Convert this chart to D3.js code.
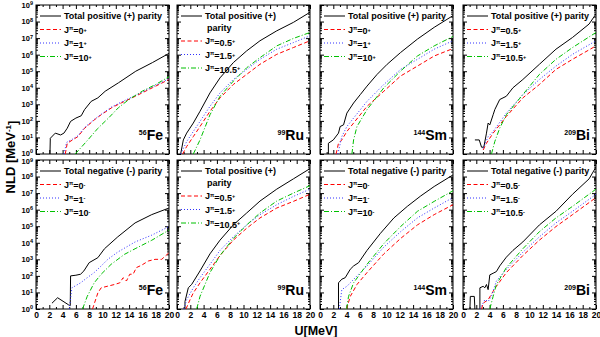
<!DOCTYPE html>
<html>
<head>
<meta charset="utf-8">
<script src="https://cdn.jsdelivr.net/npm/d3@7"></script>
<style>
  body { margin: 0; background: #fff; }
  text { font-family: "Liberation Sans", Arial, sans-serif; font-weight: bold; fill: #000; }
</style>
</head>
<body>
<script>
// values: [U (MeV), log10 NLD]
var xMajor = d3.range(0, 21, 2);
var xMinor = d3.range(1, 20, 2);
var yDecades = d3.range(0, 10);

var fePos = [
  [[2.1,0],[2.15,0.95],[2.9,1.26],[3.7,1.15],[4.2,1.26],[4.7,1.56],[5.2,1.97],[6.0,2.17],[6.8,2.31],[7.3,2.68],[8.3,3.18],[9.3,3.39],[10.4,3.79],[12.4,4.3],[15,5.0],[17.5,5.52],[20,6.08]],
  [[4.4,0],[4.7,0.65],[5.5,0.85],[6.3,1.05],[7.3,1.55],[8.8,2.07],[9.8,2.37],[11.4,2.8],[12.9,3.1],[15,3.5],[17.5,4.0],[20,4.5]],
  [[4.2,0],[4.6,0.7],[5.5,0.9],[6.3,1.1],[7.3,1.6],[8.8,2.1],[9.8,2.4],[11.4,2.85],[12.9,3.15],[15,3.55],[17.5,4.05],[20,4.55]],
  [[5.9,0],[7.8,0.85],[9.3,1.55],[10.9,2.17],[12.4,2.8],[14,3.3],[16,3.8],[18,4.2],[20,4.67]]
];
var ruPos = [
  [[0.55,0],[0.95,0.85],[1.45,1.26],[2.45,1.87],[3.46,2.58],[4.96,3.69],[6.47,4.6],[8.47,5.52],[10.48,6.23],[12.48,6.84],[15,7.44],[17.5,7.95],[20,8.56]],
  [[0.85,0],[1.45,0.45],[2.45,1.05],[3.46,1.66],[4.96,2.58],[6.47,3.39],[8.47,4.2],[10.48,4.81],[12.48,5.42],[15,6.02],[17.5,6.43],[20,6.84]],
  [[0.55,0],[1.45,0.75],[2.45,1.36],[3.46,1.97],[4.96,2.88],[6.47,3.69],[8.47,4.5],[10.48,5.11],[12.48,5.72],[15,6.33],[17.5,6.73],[20,7.14]],
  [[2.45,0],[3.46,0.85],[4.96,2.37],[6.47,3.49],[8.47,4.4],[10.48,5.21],[12.48,5.82],[15,6.53],[17.5,6.98],[20,7.34]]
];
var smPos = [
  [[1.26,0],[1.26,0.65],[2.0,0.85],[2.78,1.26],[3.03,1.66],[3.54,1.76],[4.04,2.47],[5.05,3.08],[6.06,3.59],[7.07,4.1],[8.59,4.81],[10.1,5.42],[12.12,6.13],[14.65,6.94],[17.17,7.65],[20,8.36]],
  [[2.42,0],[2.78,0.65],[3.28,0.85],[4.04,1.36],[5.05,1.87],[7.07,2.88],[9.6,3.79],[12.12,4.71],[14.65,5.31],[17.17,5.92],[20,6.37]],
  [[2.68,0],[3.28,1.05],[4.04,1.66],[5.05,2.17],[7.07,3.18],[9.6,4.2],[12.12,5.11],[14.65,5.72],[17.17,6.33],[20,6.84]],
  [[4.8,0],[5.05,0.85],[5.56,1.66],[7.07,2.68],[9.6,4.0],[12.12,5.01],[14.65,5.92],[17.17,6.53],[20,7.1]]
];
var biPos = [
  [[1.79,0.85],[2.44,0.85],[2.79,0.41],[3.13,0.41],[3.53,1.26],[3.78,1.87],[4.03,1.76],[4.53,2.37],[4.78,2.68],[5.52,3.29],[6.52,3.49],[7.51,4.0],[9.0,4.5],[11.49,5.42],[13.98,6.33],[16.47,7.04],[18.96,7.85],[20,8.46]],
  [[3.03,0.24],[3.53,0.65],[4.53,1.26],[6.52,2.27],[9.0,3.39],[11.49,4.2],[13.98,5.11],[16.47,5.72],[20,6.53]],
  [[3.03,0.34],[3.78,1.05],[4.53,1.36],[6.52,2.47],[9.0,3.59],[11.49,4.5],[13.98,5.31],[16.47,6.02],[20,6.84]],
  [[4.28,0],[4.78,0.75],[5.52,1.56],[6.52,2.37],[9.0,3.59],[11.49,4.81],[13.98,5.72],[16.47,6.43],[20,7.34]]
];
var feNeg = [
  [[2.4,0.35],[3.25,0.68],[4.9,0.25],[5.15,0.2],[5.2,2.0],[6.0,2.04],[6.7,2.1],[7.2,2.3],[8.0,2.8],[9.3,3.1],[10.3,3.64],[12.3,4.36],[14.9,5.2],[17.4,5.7],[20,6.1]],
  [[8.5,0],[9.3,0.97],[9.8,1.28],[10.8,1.38],[11.8,1.48],[12.6,1.58],[13.1,1.89],[13.6,1.69],[14.1,2.1],[14.6,2.1],[15.1,2.5],[15.9,2.65],[16.9,2.9],[17.9,3.0],[18.9,3.0],[20,3.4]],
  [[5.0,0],[5.4,1.28],[6.7,1.58],[7.7,1.89],[8.75,2.2],[9.8,2.6],[10.8,3.0],[12.3,3.44],[14.9,4.05],[17.4,4.46],[20,4.98]],
  [[7.0,0],[7.7,0.76],[8.75,1.58],[9.8,2.1],[11.3,2.7],[13.3,3.3],[14.9,3.64],[17.4,4.15],[20,4.77]]
];
var ruPos2 = [
  [[1.2,0],[1.2,0.45],[1.7,1.28],[2.2,1.48],[3.46,2.3],[4.96,3.33],[6.47,4.16],[8.47,5.08],[10.48,5.8],[12.48,6.52],[15,7.24],[17.5,7.86],[20,8.48]],
  [[1.35,0],[1.96,0.56],[2.45,0.97],[3.46,1.58],[4.96,2.4],[6.47,3.23],[8.47,4.16],[10.48,4.88],[12.48,5.5],[15,6.1],[17.5,6.5],[20,6.93]],
  [[1.05,0],[1.45,0.56],[2.45,1.28],[3.46,1.89],[4.96,2.7],[6.47,3.54],[8.47,4.36],[10.48,5.08],[12.48,5.7],[15,6.3],[17.5,6.8],[20,7.24]],
  [[2.96,0],[3.46,0.76],[4.96,2.2],[6.47,3.23],[8.47,4.26],[10.48,5.08],[12.48,5.8],[15,6.52],[17.5,7.0],[20,7.45]]
];
var smNeg = [
  [[2.78,0],[2.78,1.58],[3.28,1.8],[3.79,1.89],[4.55,2.4],[5.05,2.6],[5.81,2.8],[7.07,3.54],[9.09,4.57],[11.11,5.5],[13.13,6.2],[15.15,6.83],[17.17,7.4],[20,8.1]],
  [[4.0,0],[4.55,0.76],[5.56,1.48],[7.07,2.2],[9.6,3.33],[12.12,4.26],[14.65,5.08],[17.17,5.7],[20,6.3]],
  [[2.9,0],[3.28,1.17],[4.04,1.37],[4.55,1.58],[5.81,2.1],[7.07,2.6],[9.6,3.74],[12.12,4.67],[14.65,5.5],[17.17,6.1],[20,6.73]],
  [[4.0,0],[4.29,0.76],[5.05,1.58],[7.07,2.7],[9.6,3.95],[12.12,4.98],[14.65,5.9],[17.17,6.5],[20,7.14]]
];
var biNeg = [
  [[1.04,0],[1.1,0.76],[1.7,0.76],[1.79,0],[1.8,null],[2.54,0],[2.54,1.28],[3.03,1.37],[3.28,1.28],[3.53,1.48],[3.78,1.17],[4.03,2.06],[4.53,2.16],[5.02,2.26],[5.52,2.6],[6.52,3.13],[7.51,3.54],[9.0,4.05],[11.49,5.08],[13.98,5.9],[16.47,6.93],[18.96,7.86],[20,8.58]],
  [[2.79,0],[3.03,0.35],[3.78,0.56],[4.53,1.07],[5.02,1.37],[6.52,2.2],[9.0,3.23],[11.49,4.16],[13.98,4.98],[16.47,5.7],[20,6.73]],
  [[2.54,0],[3.28,0.56],[3.78,0.45],[4.28,0.76],[5.02,1.69],[6.52,2.4],[9.0,3.43],[11.49,4.36],[13.98,5.2],[16.47,5.9],[20,6.93]],
  [[4.03,0],[4.53,0.76],[5.02,1.48],[6.52,2.5],[9.0,3.64],[11.49,4.67],[13.98,5.5],[16.47,6.2],[20,7.24]]
];

var intSpins = ["0", "1", "10"];
var halfSpins = ["0.5", "1.5", "10.5"];
var nuclei = [["56", "Fe"], ["99", "Ru"], ["144", "Sm"], ["209", "Bi"]];

var panels = [
  { series: fePos, nuc: nuclei[0], title: ["Total positive (+) parity"], spins: intSpins, sign: "+" },
  { series: ruPos, nuc: nuclei[1], title: ["Total positive (+)", "parity"], spins: halfSpins, sign: "+" },
  { series: smPos, nuc: nuclei[2], title: ["Total positive (+) parity"], spins: intSpins, sign: "+" },
  { series: biPos, nuc: nuclei[3], title: ["Total positive (+) parity"], spins: halfSpins, sign: "+" },
  { series: feNeg, nuc: nuclei[0], title: ["Total negative (-) parity"], spins: intSpins, sign: "-" },
  { series: ruPos2, nuc: nuclei[1], title: ["Total positive (+)", "parity"], spins: halfSpins, sign: "+" },
  { series: smNeg, nuc: nuclei[2], title: ["Total negative (-) parity"], spins: intSpins, sign: "-" },
  { series: biNeg, nuc: nuclei[3], title: ["Total negative (-) parity"], spins: halfSpins, sign: "-" }
];

var styles = [
  { color: "#000", dash: null },
  { color: "#ff0000", dash: "4,2.5" },
  { color: "#3030ff", dash: "1,2" },
  { color: "#00c000", dash: "5,2,1,2" }
];

var width = 600, height = 337;
var colX = [36, 177, 320, 463], panelW = 133;
var rowY = [5, 160], panelH = 149;

var svg = d3.select("body").append("svg")
  .attr("width", width)
  .attr("height", height);

var x = d3.scaleLinear().domain([0, 20]).range([0, panelW]);
var y = d3.scaleLog().domain([1, 1e9]).range([panelH, 0]);

var yMinor = [];
yDecades.slice(0, 9).forEach(function(k) {
  for (var m = 2; m < 10; m++) yMinor.push(m * Math.pow(10, k));
});

var line = d3.line()
  .defined(function(d) { return d[1] !== null; })
  .x(function(d) { return x(d[0]); })
  .y(function(d) { return y(Math.pow(10, d[1])); });

function styleAxis(g) {
  g.select(".domain").remove();
  g.selectAll("line").attr("stroke", "#000");
  g.attr("font-family", null).attr("font-size", null);
}

panels.forEach(function(p, i) {
  var col = i % 4, row = Math.floor(i / 4);
  var g = svg.append("g")
    .attr("transform", "translate(" + colX[col] + "," + rowY[row] + ")");

  g.append("clipPath").attr("id", "clip" + i)
    .append("rect").attr("width", panelW).attr("height", panelH);

  // axes, ticks pointing inward on all four sides
  g.append("g").attr("transform", "translate(0," + panelH + ")")
    .call(d3.axisBottom(x).tickValues(xMajor).tickSizeInner(-4).tickSizeOuter(0).tickPadding(3)
      .tickFormat(row === 1 ? d3.format("d") : ""))
    .call(styleAxis)
    .selectAll("text").style("font-size", "8.5px");
  g.append("g").attr("transform", "translate(0," + panelH + ")")
    .call(d3.axisBottom(x).tickValues(xMinor).tickSizeInner(-2).tickSizeOuter(0).tickFormat(""))
    .call(styleAxis);
  g.append("g")
    .call(d3.axisTop(x).tickValues(xMajor).tickSizeInner(-4).tickSizeOuter(0).tickFormat(""))
    .call(styleAxis);
  g.append("g")
    .call(d3.axisTop(x).tickValues(xMinor).tickSizeInner(-2).tickSizeOuter(0).tickFormat(""))
    .call(styleAxis);

  var left = g.append("g")
    .call(d3.axisLeft(y).tickValues(yDecades.map(function(k) { return Math.pow(10, k); }))
      .tickSizeInner(-4).tickSizeOuter(0).tickPadding(3).tickFormat(""))
    .call(styleAxis);
  if (col === 0) {
    left.selectAll(".tick text")
      .attr("x", -3)
      .attr("dy", function(d) {
        // nudge the two labels that meet between the rows
        if (row === 0 && d === 1) return "0.15em";
        if (row === 1 && d === 1e9) return "0.5em";
        return "0.32em";
      })
      .style("font-size", "7.5px")
      .each(function(d) {
        var t = d3.select(this);
        t.text("10");
        t.append("tspan").attr("dy", "-0.45em").style("font-size", "5.5px").text(Math.round(Math.log10(d)));
      });
  }
  g.append("g")
    .call(d3.axisLeft(y).tickValues(yMinor).tickSizeInner(-2).tickSizeOuter(0).tickFormat(""))
    .call(styleAxis);
  g.append("g").attr("transform", "translate(" + panelW + ",0)")
    .call(d3.axisRight(y).tickValues(yDecades.map(function(k) { return Math.pow(10, k); }))
      .tickSizeInner(-4).tickSizeOuter(0).tickFormat(""))
    .call(styleAxis);
  g.append("g").attr("transform", "translate(" + panelW + ",0)")
    .call(d3.axisRight(y).tickValues(yMinor).tickSizeInner(-2).tickSizeOuter(0).tickFormat(""))
    .call(styleAxis);

  g.append("rect")
    .attr("width", panelW).attr("height", panelH)
    .attr("fill", "none").attr("stroke", "#000").attr("stroke-width", 1);

  // curves
  g.append("g").attr("clip-path", "url(#clip" + i + ")")
    .selectAll("path")
    .data(p.series)
    .join("path")
    .attr("d", line)
    .attr("fill", "none")
    .attr("stroke", function(d, j) { return styles[j].color; })
    .attr("stroke-width", 1)
    .attr("stroke-dasharray", function(d, j) { return styles[j].dash; });

  // legend
  var ly = 11, step = 13.5;
  var rows = [];
  rows.push({ y: ly, kind: 0, label: p.title[0] });
  if (p.title.length > 1) { ly += 11.5; rows.push({ y: ly, kind: -1, label: p.title[1] }); }
  p.spins.forEach(function(s, j) {
    ly += step;
    rows.push({ y: ly, kind: j + 1, label: s });
  });

  var leg = g.append("g").attr("class", "legend");
  rows.forEach(function(r) {
    if (r.kind >= 0) {
      leg.append("line")
        .attr("x1", 4).attr("x2", 25)
        .attr("y1", r.y).attr("y2", r.y)
        .attr("stroke", styles[r.kind].color)
        .attr("stroke-width", 1)
        .attr("stroke-dasharray", styles[r.kind].dash);
    }
    var t = leg.append("text")
      .attr("x", r.kind === -1 ? 30 : 28)
      .attr("y", r.y + 3.2)
      .style("font-size", "9px");
    if (r.kind <= 0) {
      t.text(r.label);
    } else {
      t.text("J");
      t.append("tspan").attr("dy", "-0.45em").style("font-size", "5.5px").text("\u03c0");
      t.append("tspan").attr("dy", "0.45em").text("=" + r.label);
      t.append("tspan").attr("dy", "-0.45em").style("font-size", "5.5px").text(p.sign);
    }
  });

  // nucleus label
  var nl = g.append("text")
    .attr("x", panelW - 6)
    .attr("y", panelH - 14)
    .attr("text-anchor", "end")
    .style("font-size", "14px");
  nl.append("tspan").style("font-size", "7px").attr("dy", "-0.75em").text(p.nuc[0]);
  nl.append("tspan").attr("dy", "0.375em").text(p.nuc[1]);
});

// axis titles
var yt = svg.append("text")
  .attr("transform", "translate(15,157) rotate(-90)")
  .attr("text-anchor", "middle")
  .style("font-size", "13px");
yt.append("tspan").text("NLD [MeV");
yt.append("tspan").attr("dy", "-0.45em").style("font-size", "8px").text("-1");
yt.append("tspan").attr("dy", "0.45em").text("]");

svg.append("text")
  .attr("x", 316)
  .attr("y", 335)
  .attr("text-anchor", "middle")
  .style("font-size", "12.5px")
  .text("U[MeV]");
</script>
</body>
</html>
